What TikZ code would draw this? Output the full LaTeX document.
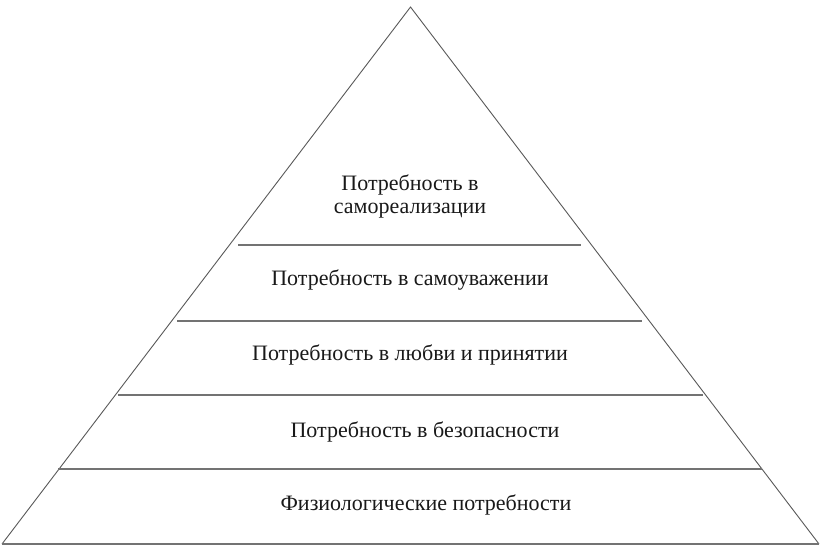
\documentclass[tikz,border=0pt]{standalone}
\usepackage{fontspec}
\setmainfont{Liberation Serif}
\begin{document}
\begin{tikzpicture}[x=1pt,y=-1pt,
  edge/.style={draw=black!65, line width=0.9pt},
  tier/.style={draw=black!55, line width=1.8pt},
  lbl/.style={font=\fontsize{22}{23}\selectfont, align=center, text=black!90}]
\useasboundingbox[fill=white] (0,0) rectangle (822,550);
\coordinate (apex) at (410.5,7);
\coordinate (bl) at (2,544);
\coordinate (br) at (819,544);
\draw[edge] (bl) -- (apex) -- (br);
\draw[tier] (bl) -- (br);
\coordinate (l1a) at (238,245); \coordinate (l1b) at (581,245);
\coordinate (l2a) at (177,321); \coordinate (l2b) at (642,321);
\coordinate (l3a) at (118,395); \coordinate (l3b) at (703,395);
\coordinate (l4a) at (58,469);  \coordinate (l4b) at (762,469);
\draw[tier] (l1a) -- (l1b);
\draw[tier] (l2a) -- (l2b);
\draw[tier] (l3a) -- (l3b);
\draw[tier] (l4a) -- (l4b);
\node[lbl] (t1) at (410,196) {Потребность в\\самореализации};
\node[lbl] (t2) at (410,280) {Потребность в самоуважении};
\node[lbl] (t3) at (410,355) {Потребность в любви и принятии};
\node[lbl] (t4) at (425,432) {Потребность в безопасности};
\node[lbl] (t5) at (426,505) {Физиологические потребности};
\end{tikzpicture}
\end{document}
